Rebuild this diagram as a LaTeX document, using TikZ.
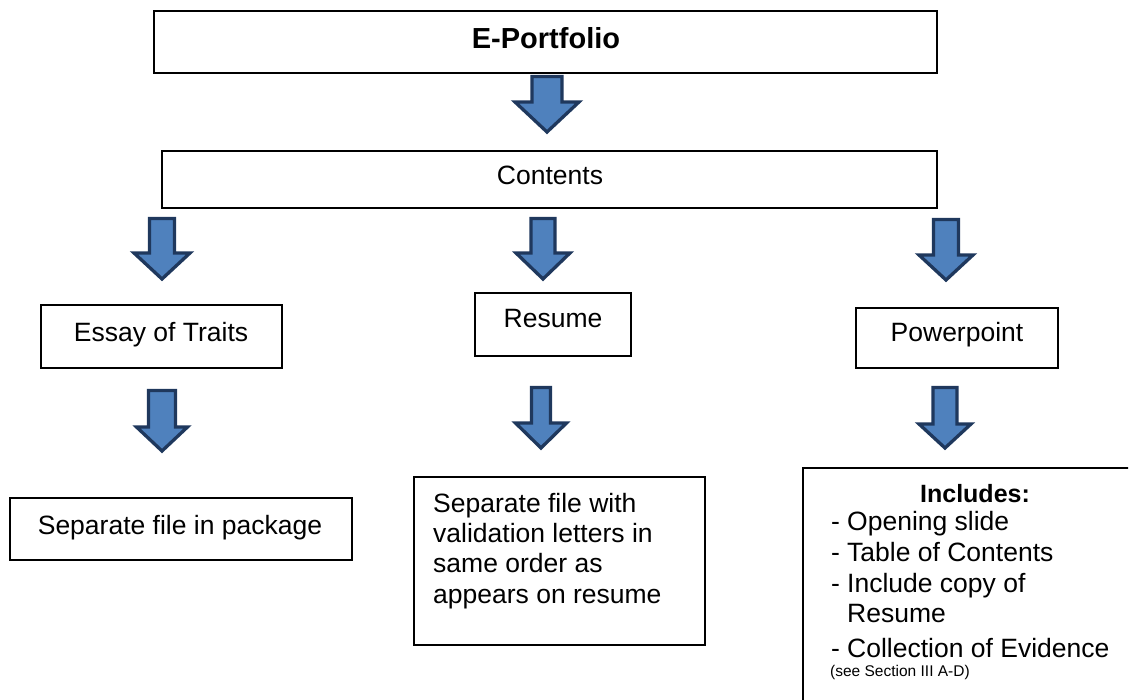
\documentclass[tikz,border=0pt]{standalone}
\usepackage{fontspec}
\setmainfont{Liberation Sans}
\definecolor{arrfill}{RGB}{79,129,189}
\definecolor{arrline}{RGB}{31,56,93}
\newcommand\blkarrow[6]{%
  \draw[blk] (#1-#3,#2) -- (#1+#3,#2) -- (#1+#3,#5) -- (#1+#4,#5) -- (#1,#6)
    -- (#1-#4,#5) -- (#1-#3,#5) -- cycle;}
\begin{document}
\begin{tikzpicture}[x=1pt,y=-1pt,
  box/.style={draw=black,line width=2pt,fill=white,inner sep=0pt},
  lbl/.style={inner sep=0pt,font=\fontsize{26.5}{30.5}\selectfont},
  blk/.style={fill=arrfill,draw=arrline,line width=3.3pt,line join=miter}]
\useasboundingbox (0,0) rectangle (1133,700);
\clip (0,0) rectangle (1128,700);

% boxes
\node[box,minimum width=783,minimum height=62] (eport) at (545.5,42) {};
\node[box,minimum width=775,minimum height=57] (contents) at (549.5,179.5) {};
\node[box,minimum width=241,minimum height=63] (essay) at (161.5,336.5) {};
\node[box,minimum width=156,minimum height=63] (resume) at (553,324.5) {};
\node[box,minimum width=202,minimum height=60] (ppt) at (957,338) {};
\node[box,minimum width=342,minimum height=62] (sepfile) at (181,529) {};
\node[box,minimum width=291,minimum height=168] (valid) at (559.5,561) {};
\node[box,minimum width=356,minimum height=251] (incl) at (981,593.5) {};

% labels
\node[lbl,font=\bfseries\fontsize{29}{34}\selectfont,anchor=base] (teport) at (546,49) {E-Portfolio};
\node[lbl,anchor=base] (tcontents) at (550,185) {Contents};
\node[lbl,anchor=base] (tessay) at (161,342) {Essay of Traits};
\node[lbl,anchor=base] (tresume) at (553,328) {Resume};
\node[lbl,anchor=base] (tppt) at (957,342) {Powerpoint};
\node[lbl,anchor=base] (tsep) at (180,534) {Separate file in package};

\node[lbl,anchor=base west] (tv1) at (433,512) {Separate file with};
\node[lbl,anchor=base west] (tv2) at (433,542) {validation letters in};
\node[lbl,anchor=base west] (tv3) at (433,572) {same order as};
\node[lbl,anchor=base west] (tv4) at (433,603) {appears on resume};

\node[lbl,font=\bfseries\fontsize{25}{30}\selectfont,anchor=base] (tinc) at (975,502) {Includes:};
\node[lbl,anchor=base west] (ti1) at (831,530) {\makebox[16pt][l]{-}Opening slide};
\node[lbl,anchor=base west] (ti2) at (831,561) {\makebox[16pt][l]{-}Table of Contents};
\node[lbl,anchor=base west] (ti3) at (831,592) {\makebox[16pt][l]{-}Include copy of};
\node[lbl,anchor=base west] (ti4) at (847,622) {Resume};
\node[lbl,anchor=base west] (ti5) at (831,657) {\makebox[16pt][l]{-}Collection of Evidence};
\node[lbl,font=\fontsize{15.5}{18}\selectfont,anchor=base west] (ti6) at (830,676) {(see Section III A-D)};

% block arrows
\blkarrow{547}{76.5}{15}{32}{102}{132}
\blkarrow{162}{218.5}{12.5}{28}{253}{279}
\blkarrow{543}{218.5}{12}{27}{253}{279}
\blkarrow{946}{219.5}{12.5}{27}{255}{280}
\blkarrow{162}{390.5}{13.5}{25.5}{427}{451}
\blkarrow{541}{387.5}{9.5}{25.5}{423}{448}
\blkarrow{945}{387.5}{12}{26}{424}{448}
\end{tikzpicture}
\end{document}
